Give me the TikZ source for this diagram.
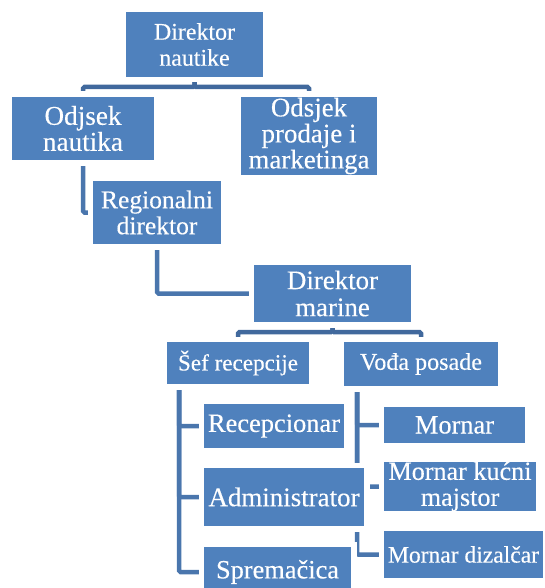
\documentclass[tikz,border=0pt]{standalone}
\usepackage{fontspec}
\setmainfont{Liberation Serif}[FakeBold=0.3]
\usetikzlibrary{calc}
\pgfdeclarelayer{bg}
\pgfsetlayers{bg,main}
\definecolor{boxblue}{HTML}{4F81BD}
\definecolor{connblue}{HTML}{4A76AD}
\definecolor{brkblue}{HTML}{41699D}
\newlength\fitlen
\newcommand\calcfit[3]{%
  \setbox0=\hbox{\fontsize{10pt}{12pt}\selectfont #2}%
  \fitlen=\wd0\relax
  \pgfmathsetmacro\fittmp{10*#3/\fitlen}%
  \expandafter\xdef\csname fs#1\endcsname{\fittmp}}
\tikzset{
  fs/.style 2 args={font=\fontsize{#1pt}{#2pt}\selectfont},
  box/.style={rectangle, fill=boxblue, preaction={draw=white, line width=11pt},
    text=white, align=center, inner sep=0pt, outer sep=0pt},
  conn/.style={draw=connblue, line width=4.5pt, rounded corners=1.5pt},
  brk/.style={draw=brkblue, line width=4.5pt, rounded corners=1.5pt}
}
\begin{document}
\calcfit{DN}{Direktor}{81}%
\calcfit{ON}{nautika}{80}%
\calcfit{OP}{marketinga}{121}%
\calcfit{RD}{Regionalni}{112}%
\calcfit{DM}{Direktor}{91}%
\calcfit{SR}{Šef recepcije}{120}%
\calcfit{VP}{Vođa posade}{122}%
\calcfit{RC}{Recepcionar}{132}%
\calcfit{AD}{Administrator}{151}%
\calcfit{SP}{Spremačica}{123}%
\calcfit{MO}{Mornar}{79}%
\calcfit{MK}{Mornar kućni}{143}%
\calcfit{MD}{Mornar dizalčar}{151}%
\begin{tikzpicture}[x=1pt, y=-1pt]
\useasboundingbox (0,0) rectangle (544,588);
\clip (0,0) rectangle (544,588);
% boxes
\node[box, minimum width=137, minimum height=65, fs={\fsDN}{26}] (dn) at (194.5,44.5) {Direktor\\nautike};
\node[box, minimum width=142, minimum height=63, fs={\fsON}{26}] (on) at (83,128.5) {Odjsek\\nautika};
\node[box, minimum width=136, minimum height=78, fs={\fsOP}{26}] (op) at (309,136) {Odsjek\\prodaje i\\marketinga};
\node[box, minimum width=128, minimum height=63, fs={\fsRD}{26}] (rd) at (157,212.5) {Regionalni\\direktor};
\node[box, minimum width=157, minimum height=57, fs={\fsDM}{27}] (dm) at (332.5,293.5) {Direktor\\marine};
\node[box, minimum width=142, minimum height=42, fs={\fsSR}{26}] (sr) at (238,363) {Šef recepcije};
\node[box, minimum width=154, minimum height=44, fs={\fsVP}{26}] (vp) at (421,364) {Vođa posade};
\node[box, minimum width=140, minimum height=44, fs={\fsRC}{26}] (rc) at (274,426) {Recepcionar};
\node[box, minimum width=160, minimum height=58, fs={\fsAD}{26}] (ad) at (284,497) {Administrator};
\node[box, minimum width=147, minimum height=50, fs={\fsSP}{26}] (sp) at (277.5,572) {Spremačica};
\node[box, minimum width=141, minimum height=36, fs={\fsMO}{26}] (mo) at (454.5,425) {Mornar};
\node[box, minimum width=152, minimum height=47, fs={\fsMK}{26}] (mk) at (460,486.5) {Mornar kućni\\majstor};
\node[box, minimum width=159, minimum height=47, fs={\fsMD}{26}] (md) at (463.5,554.5) {Mornar dizalčar};
% connectors
\begin{pgfonlayer}{bg}
\draw[brk] (dn.south) -- ++(0,10) -| (on.north);
\draw[brk] (dn.south) -- ++(0,10) -| (op.north);
\draw[conn] (on.south) |- (rd.west);
\draw[conn] (rd.south) |- (dm.west);
\draw[brk] (dm.south) -- ++(0,10) -| (sr.north);
\draw[brk] (dm.south) -- ++(0,10) -| (vp.north);
\coordinate (sx) at ([xshift=12pt]sr.south west);
\draw[conn] (sx) |- (rc.west);
\draw[conn] (sx) |- (ad.west);
\draw[conn] (sx) |- (sp.west);
\coordinate (vx) at ([xshift=13pt]vp.south west);
\draw[conn] (vx) |- (mo.west);
\draw[conn] (vx) |- (mk.west);
\draw[conn] (vx) |- (md.west);
\end{pgfonlayer}
\end{tikzpicture}
\end{document}
